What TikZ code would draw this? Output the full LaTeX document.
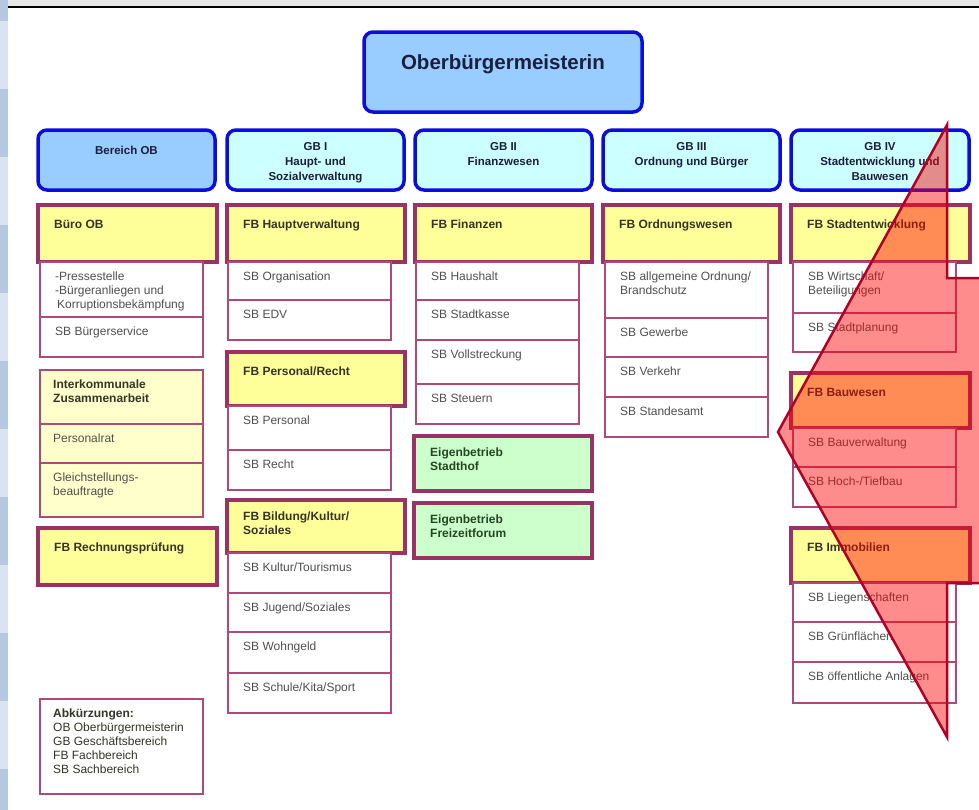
\documentclass[tikz,border=0pt]{standalone}
\usepackage{fontspec}
\setmainfont{Liberation Sans}
\usetikzlibrary{
	calc,
	fit
}
\definecolor{obBlue}{RGB}{12,12,222}
\definecolor{obFill}{RGB}{153,204,255}
\definecolor{gbFill}{RGB}{204,255,255}
\definecolor{fbLine}{RGB}{153,51,102}
\definecolor{fbFill}{RGB}{255,255,153}
\definecolor{sbLine}{RGB}{176,72,122}
\definecolor{exFill}{RGB}{255,255,204}
\definecolor{ebFill}{RGB}{204,255,204}
\definecolor{headText}{RGB}{28,30,60}
\definecolor{boxText}{RGB}{52,52,40}
\definecolor{sbText}{RGB}{80,80,80}
\definecolor{ebText}{RGB}{36,70,36}
\definecolor{arrowRed}{RGB}{176,0,36}
\definecolor{stripDark}{RGB}{180,200,226}
\definecolor{stripLight}{RGB}{218,228,240}
\definecolor{barGrey}{RGB}{230,230,230}
\tikzset{
	headbox/.style={draw=obBlue,line width=3.5pt,rounded corners=9pt,inner sep=0pt,outer sep=0pt},
	obbox/.style={headbox,fill=obFill},
	gbbox/.style={headbox,fill=gbFill},
	fbbox/.style={draw=fbLine,line width=4.5pt,fill=fbFill,inner sep=0pt,outer sep=0pt},
	ebbox/.style={fbbox,fill=ebFill},
	sbbox/.style={draw=sbLine,line width=1.5pt,fill=white,inner sep=0pt,outer sep=0pt},
	exbox/.style={sbbox,fill=exFill}
}
\tikzset{
	headtext/.style={anchor=north,align=center,inner sep=0pt,yshift=-12pt,text=headText,font=\bfseries\fontsize{11.5}{15}\selectfont},
	obtext/.style={headtext},
	gbtext/.style={headtext},
	fbtext/.style={anchor=north west,align=left,inner sep=0pt,xshift=16pt,yshift=-15pt,text=boxText,font=\bfseries\fontsize{12}{14}\selectfont},
	ebtext/.style={fbtext,text=ebText},
	sbtext/.style={anchor=north west,align=left,inner sep=0pt,xshift=15pt,yshift=-10pt,text=sbText,font=\fontsize{12}{14}\selectfont},
	extext/.style={sbtext,xshift=-2pt}
}
\newcommand{\headBox}[6][]{\node (#2) [#3box,fit={#4 #5}] {};
	\node (#2t) [#3text,#1] at (#2.north) {#6};}
\newcommand{\orgBox}[6][]{\node (#2) [#3box,fit={#4 #5}] {};
	\node (#2t) [#3text,#1] at (#2.north west) {#6};}

\begin{document}
\begin{tikzpicture}[x=1pt,y=-1pt]
	\clip (0,0) rectangle (979,809);
	\fill[white] (0,0) rectangle (979,809);
	\fill[stripLight] (0,0) rectangle (8,809);
	\foreach \y in {-47,89,...,769}
		\fill[stripDark] (0,\y) rectangle (8,\y+68);
	\fill[barGrey] (8,0) rectangle (979,6);
	\draw[line width=2pt] (8,7) -- (979,7);
	
	\headBox[yshift=-10pt,font=\bfseries\fontsize{20.5}{24}\selectfont]{obm}{ob}{(364,32)}{(642,112)}{Oberbürgermeisterin}
	
	\headBox[yshift=-4pt]{bereichOb}{ob}{(38,130)}{(215,190)}{Bereich OB}
	\headBox{gbI}{gb}{(227,130)}{(404,190)}{GB I\\Haupt- und\\Sozialverwaltung}
	\headBox{gbII}{gb}{(415,130)}{(592,190)}{GB II\\Finanzwesen}
	\headBox{gbIII}{gb}{(603,130)}{(780,190)}{GB III\\Ordnung und Bürger}
	\headBox{gbIV}{gb}{(791,130)}{(969,190)}{GB IV\\Stadtentwicklung und\\Bauwesen}
	
	\orgBox{bueroOb}{fb}{(38,205)}{(217,262)}{Büro OB}
	\orgBox{presse}{sb}{(40,262)}{(203,317)}{-Pressestelle\\-Bürgeranliegen und\\\hspace{2pt}Korruptionsbekämpfung}
	\orgBox{buergerservice}{sb}{(40,317)}{(203,357)}{SB Bürgerservice}
	\orgBox[font=\bfseries\fontsize{12}{14}\selectfont,text=boxText]{interkom}{ex}{(40,370)}{(203,424)}{Interkommunale\\Zusammenarbeit}
	\orgBox{personalrat}{ex}{(40,424)}{(203,463)}{Personalrat}
	\orgBox{gleichst}{ex}{(40,463)}{(203,517)}{Gleichstellungs-\\beauftragte}
	\orgBox{rpa}{fb}{(38,528)}{(217,585)}{FB Rechnungsprüfung}
	\orgBox[xshift=-2pt,text=boxText]{abk}{sb}{(40,699)}{(203,794)}{\textbf{Abkürzungen:}\\OB Oberbürgermeisterin\\GB Geschäftsbereich\\FB Fachbereich\\SB Sachbereich}
	
	\orgBox{hauptverw}{fb}{(227,205)}{(405,262)}{FB Hauptverwaltung}
	\orgBox{orga}{sb}{(228,262)}{(391,300)}{SB Organisation}
	\orgBox{edv}{sb}{(228,300)}{(391,340)}{SB EDV}
	\orgBox{persRecht}{fb}{(227,352)}{(405,406)}{FB Personal/Recht}
	\orgBox{personal}{sb}{(228,406)}{(391,450)}{SB Personal}
	\orgBox{recht}{sb}{(228,450)}{(391,490)}{SB Recht}
	\orgBox[yshift=3pt]{bildung}{fb}{(227,500)}{(405,553)}{FB Bildung/Kultur/\\Soziales}
	\orgBox{kultur}{sb}{(228,553)}{(391,593)}{SB Kultur/Tourismus}
	\orgBox{jugend}{sb}{(228,593)}{(391,632)}{SB Jugend/Soziales}
	\orgBox{wohngeld}{sb}{(228,632)}{(391,673)}{SB Wohngeld}
	\orgBox{schule}{sb}{(228,673)}{(391,713)}{SB Schule/Kita/Sport}
	
	\orgBox{finanzen}{fb}{(415,205)}{(592,262)}{FB Finanzen}
	\orgBox{haushalt}{sb}{(416,262)}{(579,300)}{SB Haushalt}
	\orgBox{stadtkasse}{sb}{(416,300)}{(579,340)}{SB Stadtkasse}
	\orgBox{vollstr}{sb}{(416,340)}{(579,384)}{SB Vollstreckung}
	\orgBox{steuern}{sb}{(416,384)}{(579,424)}{SB Steuern}
	\orgBox[yshift=3pt]{stadthof}{eb}{(414,436)}{(592,491)}{Eigenbetrieb\\Stadthof}
	\orgBox[yshift=3pt]{freizeit}{eb}{(414,503)}{(592,558)}{Eigenbetrieb\\Freizeitforum}
	
	\orgBox{ordnung}{fb}{(603,205)}{(780,262)}{FB Ordnungswesen}
	\orgBox{allgOrd}{sb}{(605,262)}{(768,318)}{SB allgemeine Ordnung/\\Brandschutz}
	\orgBox{gewerbe}{sb}{(605,318)}{(768,357)}{SB Gewerbe}
	\orgBox{verkehr}{sb}{(605,357)}{(768,397)}{SB Verkehr}
	\orgBox{standesamt}{sb}{(605,397)}{(768,437)}{SB Standesamt}
	
	\orgBox{stadtentw}{fb}{(791,205)}{(970,262)}{FB Stadtentwicklung}
	\orgBox{wirtschaft}{sb}{(793,262)}{(956,313)}{SB Wirtschaft/\\Beteiligungen}
	\orgBox{stadtplan}{sb}{(793,313)}{(956,352)}{SB Stadtplanung}
	\orgBox{bauwesen}{fb}{(791,373)}{(970,428)}{FB Bauwesen}
	\orgBox{bauverw}{sb}{(793,428)}{(956,467)}{SB Bauverwaltung}
	\orgBox{hochTief}{sb}{(793,467)}{(956,507)}{SB Hoch-/Tiefbau}
	\orgBox{immobilien}{fb}{(791,528)}{(970,583)}{FB Immobilien}
	\orgBox{liegensch}{sb}{(793,583)}{(956,622)}{SB Liegenschaften}
	\orgBox{gruen}{sb}{(793,622)}{(956,662)}{SB Grünflächen}
	\orgBox{anlagen}{sb}{(793,662)}{(956,703)}{SB öffentliche Anlagen}
	
	\draw[draw=arrowRed,line width=2.5pt,fill=red,fill opacity=0.45,line join=miter]
		(947,125) -- (778,432) -- (947,737) -- (947,583) -- (995,583) -- (995,278) -- (947,278) -- cycle;
\end{tikzpicture}
\end{document}
